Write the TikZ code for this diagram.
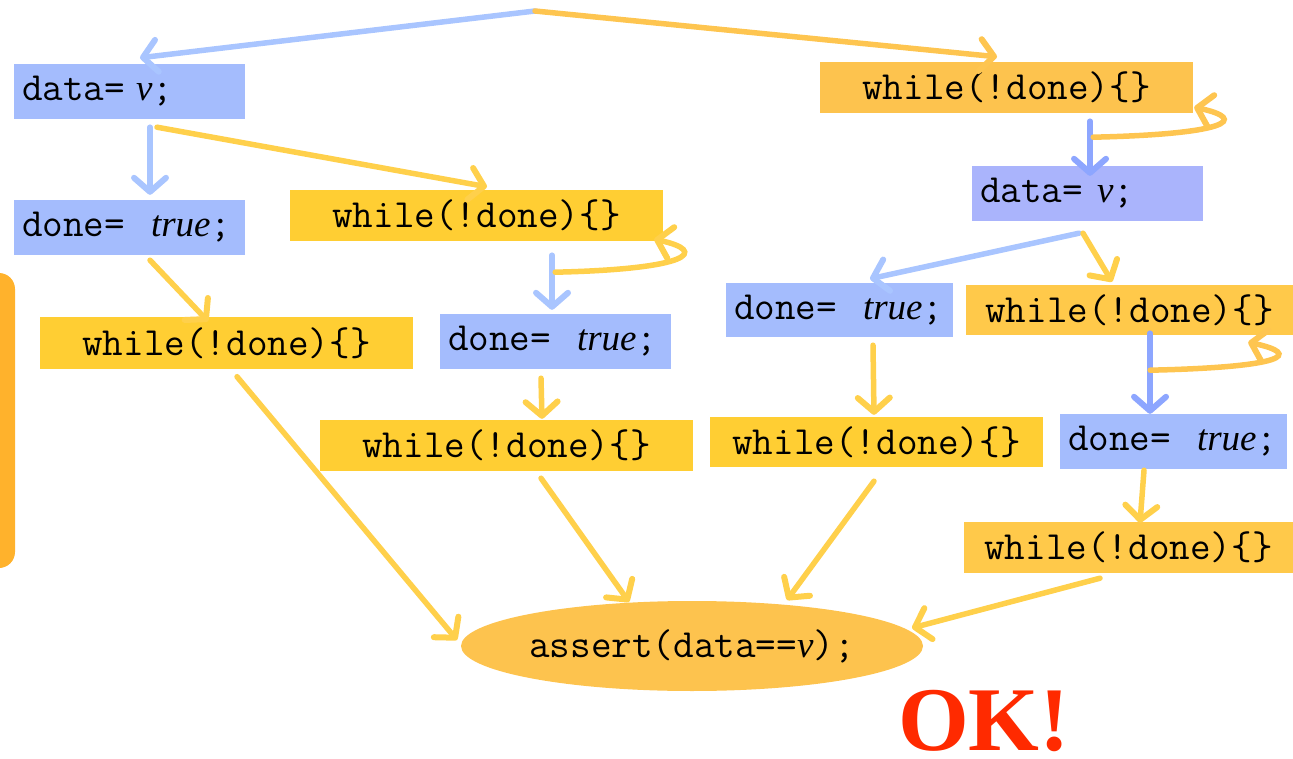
\documentclass[tikz,border=0pt]{standalone}
\usepackage{fontspec}
\setmainfont{Liberation Serif}
\newfontfamily\tms{Liberation Serif}
\usetikzlibrary{arrows.meta,shapes.geometric}

\definecolor{bxblue}{HTML}{A4BCFD}
\definecolor{bxblueB}{HTML}{AAB4FC}
\definecolor{bxyel}{HTML}{FFCE33}
\definecolor{bxorg}{HTML}{FDC34E}
\definecolor{bxorgB}{HTML}{FFC94A}
\definecolor{sideorg}{HTML}{FFB22C}
\definecolor{lnblue}{HTML}{A9C5FF}
\definecolor{lnblueD}{HTML}{8DA6FF}
\definecolor{lnorg}{HTML}{FEC550}
\definecolor{lnyel}{HTML}{FFD04B}
\definecolor{okred}{HTML}{FF2A00}

\newcommand{\iv}{{\tms\itshape\fontsize{37}{40}\selectfont v}}
\newcommand{\itrue}{{\tms\itshape\fontsize{37}{40}\selectfont true}}

\tikzset{
  code/.style={font=\ttfamily\fontsize{40}{44}\selectfont, inner xsep=8pt, inner ysep=0pt, text=black},
  bluebox/.style={code, rectangle, fill=bxblue, minimum height=55pt, text width=#1, align=left},
  whilebox/.style={code, rectangle, fill=bxyel, minimum height=51pt, minimum width=#1, align=center},
  con/.style={line width=5.5pt, line cap=round, -{Straight Barb[length=14pt,width=32pt,line width=6pt,line cap=round,line join=round]}},
}

\begin{document}
\begin{tikzpicture}[x=1pt, y=-1pt]
\useasboundingbox (0,0) rectangle (1293,759);

% side shape
\fill[sideorg, rounded corners=16pt] (-40,273) rectangle (15,568);

% nodes
\node[bluebox=215pt] (dL) at (129.5,91.5) {data=\hspace{11pt}\iv;};
\node[bluebox=215pt] (doneL) at (129.5,227.5) {done=\hspace{26pt}\itrue;};
\node[whilebox=373pt] (whL) at (226.5,343) {while(!done)\{\}};
\node[whilebox=373pt] (whM) at (476.5,215.5) {while(!done)\{\}};
\node[bluebox=215pt] (doneM) at (555.5,341.5) {done=\hspace{26pt}\itrue;};
\node[whilebox=373pt] (whM2) at (506.5,445.5) {while(!done)\{\}};
\node[whilebox=373pt, fill=bxorg] (whR) at (1006.5,87.5) {while(!done)\{\}};
\node[bluebox=215pt, fill=bxblueB] (dR) at (1087.5,193.5) {data=\hspace{14pt}\iv;};
\node[bluebox=211pt, minimum height=54pt] (doneR) at (839.5,310) {done=\hspace{26pt}\itrue;};
\node[whilebox=327pt, fill=bxorgB, minimum height=50pt] (whR2) at (1129.5,310) {while(!done)\{\}};
\node[whilebox=333pt, minimum height=50pt] (whC) at (876.5,442) {while(!done)\{\}};
\node[bluebox=211pt] (doneR2) at (1173.5,441.5) {done=\hspace{26pt}\itrue;};
\node[whilebox=329pt, fill=bxorgB] (whR3) at (1128.5,547.5) {while(!done)\{\}};
\node[code, ellipse, fill=bxorg, minimum width=462pt, minimum height=90pt, inner sep=0pt] (el) at (692,646) {assert(data==\iv);};

\node[font=\tms\bfseries\fontsize{91}{91}\selectfont, text=okred, anchor=base, inner sep=0pt] (ok) at (984,750) {OK!};

\coordinate (top) at (535,11);

% connectors from the top
\draw[con, lnblue] (top) -- ([shift={(10.5,-6)}]dL.north);
\draw[con, lnorg] (top) -- ([shift={(-9.5,-5)}]whR.north);

% left thread
\draw[con, lnblue] ([shift={(20.5,8)}]dL.south) -- ([shift={(20.5,-5)}]doneL.north);
\draw[con, lnyel] ([shift={(27.5,8)}]dL.south) -- ([shift={(10.5,-3)}]whM.north);
\draw[con, lnyel] ([shift={(20.5,5)}]doneL.south) -- ([shift={(-18.5,4)}]whL.north);

% middle branch
\draw[con, lnblue] ([shift={(75.5,14)}]whM.south) -- ([shift={(-3.5,-4)}]doneM.north);
\draw[con, lnyel] ([shift={(-108,31)}]whM.south east) .. controls +(135,-3) and +(55,12) .. ([shift={(-9,-2)}]whM.south east);
\draw[con, lnyel] ([shift={(-14.5,9)}]doneM.south) -- ([shift={(35.5,-1)}]whM2.north);

% right thread
\draw[con, lnblueD] ([shift={(83.5,8)}]whR.south) -- ([shift={(2.5,10)}]dR.north);
\draw[con, lnorg] ([shift={(-100,24)}]whR.south east) .. controls +(135,-3) and +(55,12) .. ([shift={(1,-6)}]whR.south east);
\draw[con, lnblue] ([shift={(-8.5,12)}]dR.south) -- ([shift={(30.5,-4)}]doneR.north);
\draw[con, lnyel] ([shift={(-4.5,12)}]dR.south) -- ([shift={(-17.5,-3)}]whR2.north);
\draw[con, lnyel] ([shift={(33.5,8)}]doneR.south) -- ([shift={(-2.5,-2)}]whC.north);
\draw[con, lnblueD] ([shift={(20.5,-2)}]whR2.south) -- ([shift={(-23.5,0)}]doneR2.north);
\draw[con, lnorg] ([shift={(-143,35)}]whR2.south east) .. controls +(135,-3) and +(55,12) .. ([shift={(-45,7)}]whR2.south east);
\draw[con, lnyel] ([shift={(-29.5,1)}]doneR2.south) -- ([shift={(11.5,1)}]whR3.north);

% to the assert
\draw[con, lnyel] ([shift={(10.5,8)}]whL.south) -- ([shift={(-235,-6)}]el.center);
\draw[con, lnyel] ([shift={(34.5,7)}]whM2.south) -- ([shift={(-63,-44)}]el.center);
\draw[con, lnyel] ([shift={(-2.5,14)}]whC.south) -- ([shift={(95,-46)}]el.center);
\draw[con, lnyel] ([shift={(-28.5,5)}]whR3.south) -- ([shift={(220,-18)}]el.center);
\end{tikzpicture}
\end{document}
